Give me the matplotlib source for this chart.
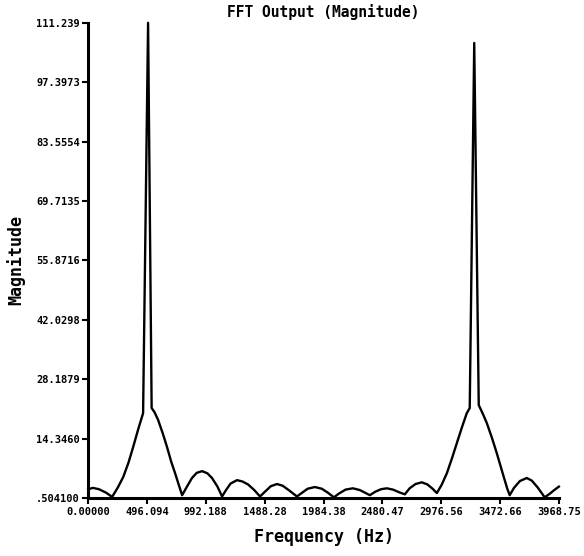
import numpy as np
import matplotlib
matplotlib.use('Agg')
import matplotlib.pyplot as plt

# valores (Hz, magnitude)
freq = [0, 40, 90, 150, 202,
        250, 295, 340, 379, 420, 463, 505, 535,
        560, 590, 630, 665, 700, 733, 765, 792,
        835, 875, 915, 960, 1005, 1044, 1090, 1129,
        1160, 1200, 1255, 1300, 1348, 1400, 1449,
        1490, 1540, 1592, 1640, 1690, 1760,
        1800, 1850, 1912, 1970, 2020, 2072,
        2110, 2170, 2232, 2290, 2340, 2375,
        2420, 2470, 2518, 2570, 2620, 2670,
        2710, 2760, 2813, 2860, 2900, 2940,
        2980, 3024, 3065, 3108, 3150, 3192, 3217, 3255, 3293,
        3330, 3361, 3405, 3445, 3480, 3512, 3535, 3554,
        3590, 3640, 3698, 3740, 3790, 3849,
        3890, 3930, 3968.75]
mag = [2.6, 2.9, 2.6, 1.8, 0.8,
       3.0, 5.4, 8.8, 12.4, 16.4, 20.3, 111.239, 21.5,
       20.5, 18.7, 15.5, 12.4, 9.0, 6.3, 3.5, 1.2,
       3.3, 5.2, 6.4, 6.8, 6.3, 5.2, 3.2, 0.9,
       2.3, 3.9, 4.7, 4.4, 3.7, 2.4, 0.9,
       2.0, 3.3, 3.8, 3.4, 2.4, 0.9,
       1.7, 2.7, 3.1, 2.7, 1.8, 0.7,
       1.5, 2.5, 2.8, 2.4, 1.7, 1.2,
       2.0, 2.6, 2.8, 2.5, 1.9, 1.4,
       2.8, 3.8, 4.2, 3.7, 2.8, 1.7,
       3.6, 6.3, 9.6, 13.3, 16.9, 20.3, 21.5, 106.54, 22.2,
       20.0, 18.0, 14.5, 11.0, 7.7, 4.7, 2.6, 1.2,
       2.9, 4.5, 5.2, 4.6, 3.0, 0.7,
       1.5, 2.4, 3.2]

xticks = [0.0, 496.094, 992.188, 1488.28, 1984.38, 2480.47, 2976.56, 3472.66, 3968.75]
xlabels = ['0.00000', '496.094', '992.188', '1488.28', '1984.38', '2480.47',
           '2976.56', '3472.66', '3968.75']
yticks = [0.5041, 14.3460, 28.1879, 42.0298, 55.8716, 69.7135, 83.5554, 97.3973, 111.239]
ylabels = ['.504100', '14.3460', '28.1879', '42.0298', '55.8716', '69.7135',
           '83.5554', '97.3973', '111.239']

fonte = 'DejaVu Sans Mono'

fig = plt.figure(figsize=(5.84, 5.56), dpi=100)
ax = fig.add_axes([0.151, 0.104, 0.806, 0.855])
ax.plot(freq, mag, color='black', lw=1.7, solid_joinstyle='round', clip_on=False)

ax.set_xlim(xticks[0], xticks[-1])
ax.set_ylim(yticks[0], yticks[-1])
ax.set_xticks(xticks)
ax.set_xticklabels(xlabels, fontfamily=fonte, fontweight='bold', fontsize=7.5)
ax.set_yticks(yticks)
ax.set_yticklabels(ylabels, fontfamily=fonte, fontweight='bold', fontsize=7.5)
ax.tick_params(direction='out', length=4, width=1.5, pad=2)

for s in ['top', 'right']:
    ax.spines[s].set_visible(False)
for s in ['left', 'bottom']:
    ax.spines[s].set_linewidth(2.2)

ax.set_title('FFT Output (Magnitude)', fontfamily=fonte, fontweight='bold', fontsize=10.5, pad=4)
ax.set_xlabel('Frequency (Hz)', fontfamily=fonte, fontweight='bold', fontsize=12, labelpad=8)
ax.set_ylabel('Magnitude', fontfamily=fonte, fontweight='bold', fontsize=12, labelpad=8)

fig.savefig('out.png', dpi=100)
